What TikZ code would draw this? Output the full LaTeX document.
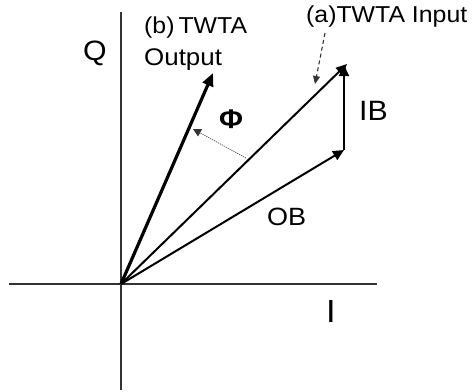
\documentclass[tikz,border=0pt]{standalone}
\usepackage{fontspec}
\setmainfont[FakeStretch=1.08]{Liberation Sans}
\usetikzlibrary{arrows.meta}
\tikzset{
  axis/.style={draw=black!80, line width=1.4pt},
  vec/.style={draw=black, line width=2pt, -{Triangle[length=11pt,width=10pt]}},
  outvec/.style={draw=black, line width=3.2pt, -{Triangle[length=13pt,width=11pt]}},
  phiarrow/.style={draw=black!65, line width=0.8pt, dash pattern=on 1.2pt off 1pt, -{Triangle[length=8pt,width=8pt,color=black!80,fill=black!80]}},
  callout/.style={draw=black!80, line width=1.1pt, dash pattern=on 4pt off 3pt, -{Triangle[length=8pt,width=7pt]}},
  lab/.style={inner sep=0pt, anchor=base west},
}
\begin{document}
\begin{tikzpicture}[x=1pt, y=-1pt]
  \useasboundingbox (0,0) rectangle (473,391);
  % axes
  \coordinate (O) at (121,284);
  \coordinate (xl) at (9,284);
  \coordinate (xr) at (377,284);
  \coordinate (yt) at (121,12);
  \coordinate (yb) at (121,390);
  \draw[axis] (xl) -- (xr);
  \draw[axis] (yt) -- (yb);
  % vector tips
  \coordinate (intip) at (347,64);
  \coordinate (obtip) at (344,150);
  \coordinate (ibtip) at (344,65);
  \coordinate (outtip) at (213,73);
  % vectors
  \draw[vec] (O) -- (obtip);
  \draw[vec] (obtip) -- (ibtip);
  \draw[vec] (O) -- (intip);
  \draw[outvec] (O) -- (outtip);
  % rotation by Phi
  \coordinate (phifrom) at (246,158);
  \coordinate (phito) at (193,129);
  \draw[phiarrow] (phifrom) -- (phito);
  % labels
  \node[lab, font=\fontsize{28}{30}\selectfont] (qlab) at (83,60) {Q};
  \node[inner sep=0pt, anchor=base, font=\fontsize{32}{34}\selectfont] (ilab) at (331,322) {I};
  \node[lab, font=\fontsize{28}{30}\selectfont] (iblab) at (359,120) {IB};
  \node[lab, font=\fontsize{25}{27}\selectfont] (oblab) at (267,225) {OB};
  \node[inner sep=0pt, anchor=base, font=\fontsize{27}{29}\selectfont\bfseries] (philab) at (231,128) {Φ};
  \node[lab, font=\fontsize{23}{26}\selectfont] (blab1) at (144,33) {(b)\hspace{4pt}TWTA};
  \node[lab, font=\fontsize{24}{26}\selectfont] (blab2) at (144,65) {Output};
  \node[lab, font=\fontsize{23}{25}\selectfont] (alab) at (306,22) {(a)TWTA Input};
  % callout from the input label
  \coordinate (cfrom) at (325,33);
  \coordinate (cto) at (315,84);
  \draw[callout] (cfrom) -- (cto);
\end{tikzpicture}
\end{document}
